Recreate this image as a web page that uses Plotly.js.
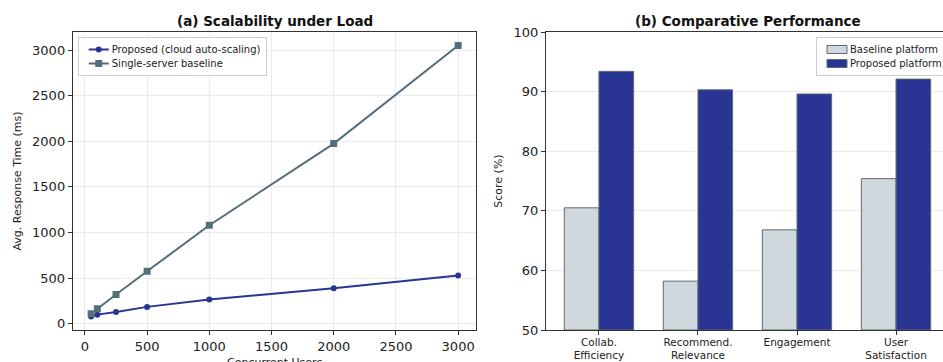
<!DOCTYPE html>
<html>
<head>
<meta charset="utf-8">
<script src="https://cdn.plot.ly/plotly-3.0.1.min.js"></script>
<style>
html,body{margin:0;padding:0;overflow:hidden;background:#fff;width:943px;height:362px;}
#chart{width:955px;height:362px;}
</style>
</head>
<body>
<div id="chart"></div>
<script>
// Panel (a) data
const users = [50, 100, 250, 500, 1000, 2000, 3000];
const proposedMs = [80, 100, 130, 185, 265, 390, 530];
const baselineMs = [110, 165, 320, 575, 1080, 1975, 3050];

// Panel (b) data
const categories = ["Collab.<br>Efficiency", "Recommend.<br>Relevance", "Engagement", "User<br>Satisfaction"];
const baselineScore = [70.5, 58.2, 66.8, 75.4];
const proposedScore = [93.4, 90.3, 89.6, 92.1];

const W = 955, H = 362;
const font = "DejaVu Sans, sans-serif";
const axisCommon = {
  showline: true, mirror: true, linecolor: "#333", linewidth: 1,
  ticks: "outside", ticklen: 4, tickcolor: "#333",
  tickfont: {family: font, size: 13, color: "#222"},
  zeroline: false, gridcolor: "#e6e6e6", gridwidth: 0.8
};

const catIdx = categories.map((_, i) => i);

const traces = [
  {x: users, y: proposedMs, type: "scatter", mode: "lines+markers",
   name: "Proposed (cloud auto-scaling)", line: {color: "#283593", width: 2},
   marker: {color: "#283593", size: 6, symbol: "circle"}, xaxis: "x", yaxis: "y", legend: "legend"},
  {x: users, y: baselineMs, type: "scatter", mode: "lines+markers",
   name: "Single-server baseline", line: {color: "#546E7A", width: 2},
   marker: {color: "#546E7A", size: 7, symbol: "square"}, xaxis: "x", yaxis: "y", legend: "legend"},
  {x: catIdx, y: baselineScore.map(v => v - 50), base: 50, type: "bar", name: "Baseline platform",
   width: 0.35, offset: -0.35,
   marker: {color: "#CFD8DC", line: {color: "#5f6b72", width: 1}},
   xaxis: "x2", yaxis: "y2", legend: "legend2", hoverinfo: "skip"},
  {x: catIdx, y: proposedScore.map(v => v - 50), base: 50, type: "bar", name: "Proposed platform",
   width: 0.35, offset: 0,
   marker: {color: "#283593", line: {color: "#5f6b72", width: 1}},
   xaxis: "x2", yaxis: "y2", legend: "legend2", hoverinfo: "skip"}
];

const yTop = 1 - 32 / H, yBot = 1 - 330 / H;

const layout = {
  width: W, height: H,
  margin: {l: 0, r: 0, t: 0, b: 0},
  paper_bgcolor: "#fff", plot_bgcolor: "#fff",
  showlegend: true,
  font: {family: font, color: "#222"},
  xaxis: Object.assign({}, axisCommon, {
    domain: [73 / W, 478 / W], range: [-97.5, 3147.5],
    tickvals: [0, 500, 1000, 1500, 2000, 2500, 3000], showgrid: true,
    anchor: "y"
  }),
  yaxis: Object.assign({}, axisCommon, {
    domain: [yBot, yTop], range: [-68.5, 3198.5],
    tickvals: [0, 500, 1000, 1500, 2000, 2500, 3000], showgrid: true,
    title: {text: "Avg. Response Time (ms)", font: {family: font, size: 11, color: "#222"}, standoff: 8},
    anchor: "x"
  }),
  xaxis2: Object.assign({}, axisCommon, {
    domain: [547.7 / W, 952 / W], range: [-0.535, 3.535],
    tickvals: catIdx, ticktext: categories, showgrid: false,
    tickfont: {family: font, size: 10.5, color: "#222"},
    ticklabelstandoff: -2,
    anchor: "y2"
  }),
  yaxis2: Object.assign({}, axisCommon, {
    domain: [yBot, yTop], range: [50, 100],
    tickvals: [50, 60, 70, 80, 90, 100], showgrid: true,
    title: {text: "Score (%)", font: {family: font, size: 11, color: "#222"}, standoff: 8},
    anchor: "x2"
  }),
  barmode: "overlay",
  legend: {
    x: 78 / W, y: 1 - 37 / H, xanchor: "left", yanchor: "top",
    bgcolor: "rgba(255,255,255,0.85)", bordercolor: "#cccccc", borderwidth: 1,
    font: {family: font, size: 10, color: "#222"}, tracegroupgap: 0, itemwidth: 30
  },
  legend2: {
    x: 819 / W, y: 1 - 37 / H, xanchor: "left", yanchor: "top",
    bgcolor: "rgba(255,255,255,0.85)", bordercolor: "#cccccc", borderwidth: 1,
    font: {family: font, size: 10, color: "#222"}, tracegroupgap: 0, itemwidth: 30
  },
  annotations: [
    {text: "<b>(a) Scalability under Load</b>", xref: "paper", yref: "paper",
     x: 275.5 / W, y: 1 - 20.5 / H, xanchor: "center", yanchor: "middle", showarrow: false,
     font: {family: font, size: 13.5, color: "#111"}},
    {text: "<b>(b) Comparative Performance</b>", xref: "paper", yref: "paper",
     x: 750 / W, y: 1 - 20.5 / H, xanchor: "center", yanchor: "middle", showarrow: false,
     font: {family: font, size: 13.5, color: "#111"}},
    {text: "Concurrent Users", xref: "paper", yref: "paper",
     x: 275.5 / W, y: 1 - 362 / H, xanchor: "center", yanchor: "middle", showarrow: false,
     font: {family: font, size: 11, color: "#222"}}
  ]
};

const barNames = new Set(["Baseline platform", "Proposed platform"]);
const TEXT_SEL = 'text.legendtext, text.legend2text';

function tidyLegends(gd) {
  const items = Array.from(gd.querySelectorAll('g.traces')).filter(it => it.querySelector(TEXT_SEL));
  const groups = new Map();
  items.forEach(it => {
    let root = it.parentNode;
    while (root && root !== gd && !Array.from(root.children).some(c => c.tagName === 'rect' && c.classList.contains('bg'))) {
      root = root.parentNode;
    }
    if (!root || root === gd) return;
    if (!groups.has(root)) groups.set(root, []);
    groups.get(root).push(it);
  });
  const parse = el => {
    const m = /translate\(\s*([-\d.]+)[ ,]+([-\d.]+)/.exec(el.getAttribute('transform') || '');
    return m ? [parseFloat(m[1]), parseFloat(m[2])] : [0, 0];
  };
  groups.forEach((its, root) => {
    if (root.getAttribute('data-tidy') === '1' || its.length < 2) return;
    root.setAttribute('data-tidy', '1');
    const p0 = parse(its[0]);
    const p1 = parse(its[1]);
    const dy = p1[1] - p0[1];
    const step = 14, shiftTop = -3, textShift = 7;
    its.forEach((it, i) => {
      const p = parse(it);
      it.setAttribute('transform', `translate(${p[0]},${p0[1] + shiftTop + i * step})`);
      const t = it.querySelector(TEXT_SEL);
      const isBar = t && barNames.has(t.textContent.trim());
      if (t) {
        const x = parseFloat(t.getAttribute('x') || '0');
        t.setAttribute('x', x - textShift);
        t.querySelectorAll('tspan[x]').forEach(ts => ts.setAttribute('x', parseFloat(ts.getAttribute('x')) - textShift));
      }
      if (isBar) {
        it.querySelectorAll('.legendpoints path').forEach(p => p.setAttribute('d', 'M10,4H-10V-4H10Z'));
      } else {
        it.querySelectorAll('path.js-line').forEach(p => p.setAttribute('d', 'M10,0h20'));
      }
    });
    const bg = Array.from(root.children).find(c => c.tagName === 'rect' && c.classList.contains('bg'));
    if (bg) {
      const h = parseFloat(bg.getAttribute('height'));
      bg.setAttribute('height', h - (its.length - 1) * (dy - step) + 2 * shiftTop);
      const w = parseFloat(bg.getAttribute('width'));
      bg.setAttribute('width', w - textShift);
    }
  });
}

Plotly.newPlot("chart", traces, layout, {displayModeBar: false, staticPlot: true}).then(gd => {
  tidyLegends(gd);
  setTimeout(() => tidyLegends(gd), 0);
});
</script>
</body>
</html>
